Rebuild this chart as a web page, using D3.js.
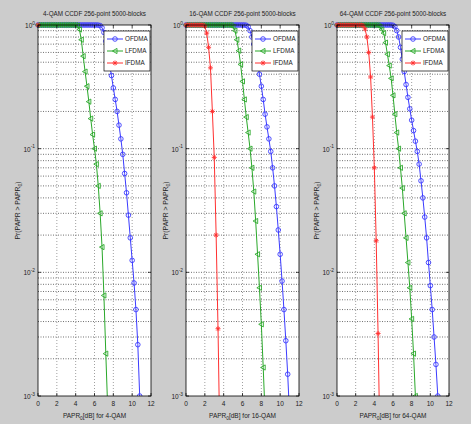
<!DOCTYPE html>
<html><head><meta charset="utf-8">
<script src="https://cdn.jsdelivr.net/npm/d3@7"></script>
<style>body{margin:0;background:#cccccc;overflow:hidden}</style>
</head><body>
<svg id="c" width="471" height="424"></svg>
<script>
// PAPR0 grid (dB)
const papr = [0,0.2,0.4,0.6,0.8,1.0,1.2,1.4,1.6,1.8,
              2.0,2.2,2.4,2.6,2.8,3.0,3.2,3.4,3.6,3.8,
              4.0,4.2,4.4,4.6,4.8,5.0,5.2,5.4,5.6,5.8,
              6.0,6.2,6.4,6.6,6.8,7.0,7.2,7.4,7.6,7.8,
              8.0,8.2,8.4,8.6,8.8,9.0,9.2,9.4,9.6,9.8,
              10.0,10.2,10.4,10.6,10.8,11.0,11.2];
const panelTitles = ["4-QAM CCDF 256-point 5000-blocks","16-QAM CCDF 256-point 5000-blocks","64-QAM CCDF 256-point 5000-blocks"];
const xLabels = ["4-QAM","16-QAM","64-QAM"];
const seriesNames = ["OFDMA","LFDMA","IFDMA"];
const xTicks = [0,2,4,6,8,10,12];
const yTicks = [1,0.1,0.01,0.001];
const yTickExp = ["0","-1","-2","-3"];

// 4-QAM
const qam4_ofdma = [1,1,1,1,1,1,1,1,1,1,
                    1,1,1,1,1,1,1,1,1,1,
                    1,1,1,1,1,1,1,1,1,1,
                    1,1,0.998,0.99,0.95,0.87,0.74,0.6,0.48,0.39,
                    0.31,0.25,0.2,0.155,0.12,0.09,0.063,0.044,0.029,0.019,
                    0.0125,0.0082,0.005,0.0026,0.001,0.0004];
const qam4_lfdma = [1,1,1,1,1,1,1,1,1,1,
                    1,1,1,1,1,1,1,1,1,1,
                    1,0.99,0.92,0.76,0.56,0.42,0.32,0.24,0.175,0.13,
                    0.1,0.075,0.05,0.03,0.016,0.0065,0.0022,0.0008,0.0003];
const qam4_ifdma = [1];
// 16-QAM
const qam16_ofdma = [1,1,1,1,1,1,1,1,1,1,
                     1,1,1,1,1,1,1,1,1,1,
                     1,1,1,1,1,1,1,1,1,1,
                     1,1,0.995,0.97,0.9,0.8,0.7,0.59,0.49,0.4,
                     0.32,0.25,0.19,0.15,0.12,0.095,0.07,0.05,0.034,0.022,
                     0.014,0.0085,0.005,0.0028,0.0015,0.0007,0.0003];
const qam16_lfdma = [1,1,1,1,1,1,1,1,1,1,
                     1,1,1,1,1,1,1,1,1,1,
                     1,1,1,1,0.995,0.97,0.9,0.76,0.62,0.48,
                     0.35,0.25,0.18,0.135,0.1,0.07,0.045,0.026,0.014,0.0075,
                     0.0038,0.0017,0.0007,0.0003];
const qam16_ifdma = [1,1,1,1,1,1,1,1,1,1,
                     0.98,0.86,0.66,0.45,0.2,0.085,0.02,0.0035,0.0004];
// 64-QAM
const qam64_ofdma = [1,1,1,1,1,1,1,1,1,1,
                     1,1,1,1,1,1,1,1,1,1,
                     1,1,1,1,1,1,1,1,1,1,
                     0.995,0.97,0.9,0.8,0.66,0.53,0.42,0.33,0.26,0.21,
                     0.17,0.14,0.115,0.095,0.075,0.055,0.04,0.028,0.019,0.012,
                     0.0078,0.005,0.003,0.0018,0.001,0.0005];
const qam64_lfdma = [1,1,1,1,1,1,1,1,1,1,
                     1,1,1,1,1,1,1,1,1,1,
                     1,1,0.995,0.97,0.92,0.86,0.72,0.58,0.47,0.37,
                     0.27,0.19,0.135,0.1,0.07,0.048,0.03,0.019,0.012,0.0075,
                     0.0042,0.0022,0.001,0.0004];
const qam64_ifdma = [1,1,1,1,1,1,1,1,1,1,
                     1,1,1,1,0.99,0.93,0.8,0.6,0.38,0.18,
                     0.07,0.018,0.0032,0.0004];

const colors = ["#3b3bff","#2aa82a","#ff3030"];
const panels = [
  {left:38, right:151, data:[qam4_ofdma,qam4_lfdma,qam4_ifdma]},
  {left:186, right:299, data:[qam16_ofdma,qam16_lfdma,qam16_ifdma]},
  {left:337, right:449, data:[qam64_ofdma,qam64_lfdma,qam64_ifdma]}
];
const plotTop = 25, plotBottom = 396;
const FONT = "Liberation Sans, Arial, sans-serif";
const svg = d3.select("#c");
svg.append("rect").attr("width",471).attr("height",424).attr("fill","#cccccc");

function marker(g, type, cx, cy, col){
  if(type===0){
    g.append("circle").attr("cx",cx).attr("cy",cy).attr("r",2.3)
      .attr("fill","none").attr("stroke",col).attr("stroke-width",0.9);
  } else if(type===1){
    g.append("path").attr("d",`M${cx-2.6},${cy}L${cx+2},${cy-2.6}L${cx+2},${cy+2.6}Z`)
      .attr("fill","none").attr("stroke",col).attr("stroke-width",0.9);
  } else {
    const s=2.5, d=1.8;
    g.append("path").attr("d",`M${cx-s},${cy}L${cx+s},${cy}M${cx},${cy-s}L${cx},${cy+s}M${cx-d},${cy-d}L${cx+d},${cy+d}M${cx-d},${cy+d}L${cx+d},${cy-d}`)
      .attr("stroke",col).attr("stroke-width",0.9).attr("fill","none");
  }
}

panels.forEach((P, pi) => {
  const x = d3.scaleLinear().domain([0,12]).range([P.left,P.right]);
  const y = d3.scaleLog().domain([0.001,1]).range([plotBottom,plotTop]);
  const g = svg.append("g");
  g.append("rect").attr("x",P.left).attr("y",plotTop).attr("width",P.right-P.left).attr("height",plotBottom-plotTop).attr("fill","#fff");

  // grid
  xTicks.slice(1,-1).forEach(t=>{
    g.append("line").attr("x1",x(t)).attr("x2",x(t)).attr("y1",plotTop).attr("y2",plotBottom)
      .attr("stroke","#777").attr("stroke-width",0.7).attr("stroke-dasharray","1,2");
  });
  const minor = [];
  [0.001,0.01,0.1].forEach(dec=>{ for(let k=1;k<=9;k++) minor.push(dec*k); });
  minor.forEach(v=>{
    if(v<=0.001||v>=1) return;
    g.append("line").attr("x1",P.left).attr("x2",P.right).attr("y1",y(v)).attr("y2",y(v))
      .attr("stroke","#333").attr("stroke-width",0.7).attr("stroke-dasharray","1,1.5");
  });

  // clip
  const cid = "clip"+pi;
  svg.append("clipPath").attr("id",cid).append("rect")
    .attr("x",P.left-4).attr("y",plotTop-4).attr("width",P.right-P.left+8).attr("height",plotBottom-plotTop+4);
  const cg = g.append("g").attr("clip-path",`url(#${cid})`);

  P.data.forEach((arr, si) => {
    const pts = arr.map((v,i)=>[papr[i],v]);
    const line = d3.line().x(d=>x(d[0])).y(d=>y(d[1]));
    cg.append("path").datum(pts).attr("d",line).attr("fill","none")
      .attr("stroke",colors[si]).attr("stroke-width",1);
    pts.forEach(d=>{ if(d[1]>=0.001) marker(cg, si, x(d[0]), y(d[1]), colors[si]); });
  });

  // axes box
  g.append("rect").attr("x",P.left).attr("y",plotTop).attr("width",P.right-P.left).attr("height",plotBottom-plotTop)
    .attr("fill","none").attr("stroke","#000").attr("stroke-width",0.8);

  // ticks
  xTicks.forEach(t=>{
    g.append("line").attr("x1",x(t)).attr("x2",x(t)).attr("y1",plotBottom).attr("y2",plotBottom-3).attr("stroke","#000").attr("stroke-width",0.7);
    g.append("line").attr("x1",x(t)).attr("x2",x(t)).attr("y1",plotTop).attr("y2",plotTop+3).attr("stroke","#000").attr("stroke-width",0.7);
    g.append("text").attr("x",x(t)).attr("y",plotBottom+10).attr("text-anchor","middle")
      .attr("font-family",FONT).attr("font-size",6.5).attr("fill","#222").text(t);
  });
  yTicks.forEach((t,i)=>{
    g.append("line").attr("x1",P.left).attr("x2",P.left+3).attr("y1",y(t)).attr("y2",y(t)).attr("stroke","#000").attr("stroke-width",0.7);
    g.append("line").attr("x1",P.right).attr("x2",P.right-3).attr("y1",y(t)).attr("y2",y(t)).attr("stroke","#000").attr("stroke-width",0.7);
    const tx = g.append("text").attr("x",P.left-3).attr("y",y(t)+3).attr("text-anchor","end")
      .attr("font-family",FONT).attr("font-size",6.5).attr("fill","#222");
    tx.append("tspan").text("10");
    tx.append("tspan").attr("dy",-3.5).attr("font-size",4.8).text(yTickExp[i]);
  });

  // title
  g.append("text").attr("x",(P.left+P.right)/2).attr("y",16).attr("text-anchor","middle")
    .attr("font-family",FONT).attr("font-size",6.3).attr("fill","#222").text(panelTitles[pi]);
  // x label
  const xl = g.append("text").attr("x",(P.left+P.right)/2).attr("y",418).attr("text-anchor","middle")
    .attr("font-family",FONT).attr("font-size",6.5).attr("fill","#222");
  xl.append("tspan").text("PAPR");
  xl.append("tspan").attr("dy",1.5).attr("font-size",4.8).text("0");
  xl.append("tspan").attr("dy",-1.5).text("[dB] for " + xLabels[pi]);
  // y label
  const yl = g.append("text").attr("transform",`translate(${P.left-18},${(plotTop+plotBottom)/2}) rotate(-90)`)
    .attr("text-anchor","middle").attr("font-family",FONT).attr("font-size",6.8).attr("fill","#222");
  yl.append("tspan").text("Pr(PAPR > PAPR");
  yl.append("tspan").attr("dy",1.5).attr("font-size",5).text("0");
  yl.append("tspan").attr("dy",-1.5).text(")");

  // legend
  const lx = P.right-47, ly = 31, lw = 46, lh = 40;
  g.append("rect").attr("x",lx).attr("y",ly).attr("width",lw).attr("height",lh)
    .attr("fill","#fff").attr("stroke","#000").attr("stroke-width",0.7);
  seriesNames.forEach((n,si)=>{
    const yy = ly + 8 + si*12;
    g.append("line").attr("x1",lx+3).attr("x2",lx+19).attr("y1",yy).attr("y2",yy)
      .attr("stroke",colors[si]).attr("stroke-width",1);
    marker(g, si, lx+11, yy, colors[si]);
    g.append("text").attr("x",lx+21).attr("y",yy+2.3).attr("font-family",FONT)
      .attr("font-size",6.3).attr("fill","#222").text(n);
  });
});
</script>
</body></html>
